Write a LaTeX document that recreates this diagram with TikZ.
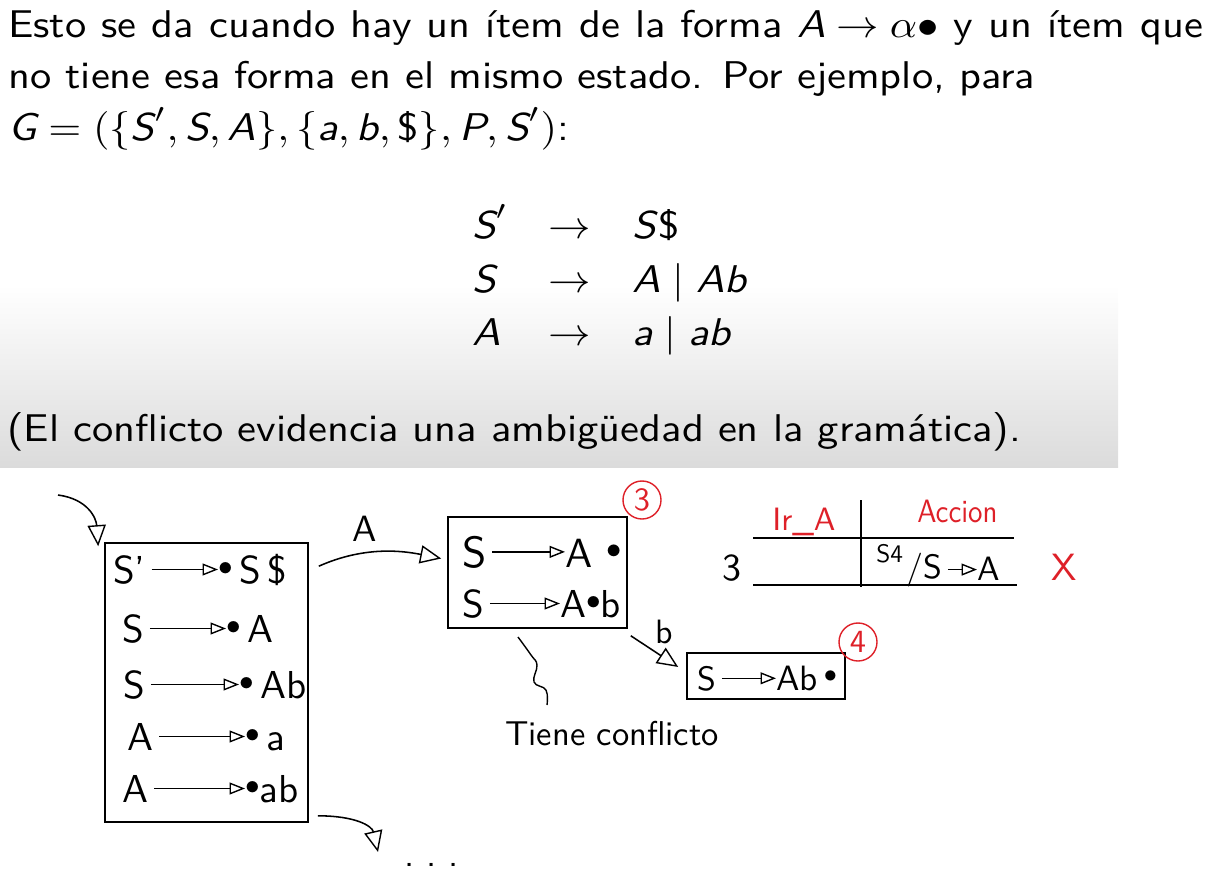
\documentclass[tikz,border=0pt]{standalone}
\usetikzlibrary{arrows.meta,positioning}
\definecolor{hred}{RGB}{222,32,40}
% texto de diapositiva: diseno de 10pt ampliado
\newcommand\sld[1]{\scalebox{3.02}[2.75]{\sffamily\fontsize{10}{12}\selectfont #1}}
% letra a mano
\newcommand\hwt[2][2.77]{\scalebox{#1}{\sffamily\fontsize{10}{12}\selectfont #2}}
\newcommand\mv[1]{\textsl{#1}}
\newcommand\hdot{\raisebox{2pt}{\scalebox{0.75}{$\bullet$}}}
\tikzset{
  slide/.style={anchor=base west, inner sep=0pt},
  hw/.style={anchor=base west, inner sep=0pt},
  statebox/.style={draw, line width=1.1pt, inner sep=0pt},
  trans/.style={-{Triangle[open,length=15pt,width=13pt,line width=1pt]}, line width=1.1pt},
  itemarr/.style={-{Triangle[open,length=11pt,width=8.5pt,line width=1pt]}, line width=1pt, shorten <=4pt},
  mark3/.style={circle, draw=hred, text=hred, line width=1pt, minimum size=0.95cm, inner sep=0pt}
}
\begin{document}
\begin{tikzpicture}[x=0.025cm,y=-0.025cm]
\useasboundingbox (0,0) rectangle (1216,873);
\shade[top color=white, bottom color=black!14] (0,285) rectangle (1118,467);

% texto de la diapositiva
\node[slide] (p1) at (8,38) {\sld{\hbox to 9.89cm{Esto se da cuando hay un ítem de la forma \mv{A}\kern0.25em$\to$\kern0.25em$\alpha\bullet$ y un ítem que}}};
\node[slide] (p2) at (8,89) {\sld{no tiene esa forma en el mismo estado. Por ejemplo, para}};
\node[slide] (p3) at (8,141) {\sld{$\mv{G}=(\{\mv{S}',\mv{S},\mv{A}\},\{\mv{a},\mv{b},\mbox{\$}\},\mv{P},\mv{S}')$:}};
\node[slide] (g1) at (472,238) {\sld{$\mv{S}'$}};
\node[slide] (g2) at (472,292) {\sld{\mv{S}}};
\node[slide] (g3) at (472,345) {\sld{\mv{A}}};
\foreach \y in {238,292,345}
  \node[slide] at (548,\y) {\sld{$\to$}};
\node[slide] (d1) at (632,238) {\sld{\mv{S}\$}};
\node[slide] (d2) at (632,292) {\sld{$\mv{A}\mid\mv{Ab}$}};
\node[slide] (d3) at (632,345) {\sld{$\mv{a}\mid\mv{ab}$}};
\node[slide] (p4) at (7,441) {\sld{(El conflicto evidencia una ambigüedad en la gramática).}};

% estado inicial
\node[statebox, minimum width=5.075cm, minimum height=6.975cm] (I0) at (206.5,682.5) {};
\foreach \l/\lx/\r/\rx/\y [count=\i] in {
  {S'}/113/{\hdot\,S\,\$}/218/583,
  S/122/{\hdot\,A}/226/642,
  S/123/{\hdot\,Ab}/239/698,
  A/127/{\hdot\,a}/245/750,
  A/122/{\hdot ab}/245/802}
{
  \node[hw] (a\i) at (\lx,\y) {\hwt{\l}};
  \node[hw] (b\i) at (\rx,\y) {\hwt{\r}};
  \draw[itemarr] (a\i) -- (a\i -| b\i.west);
}
\draw[trans] (58,495) .. controls +(30,4) and +(-2,-28) .. ([shift={(-6,4)}]I0.north west);
\draw[trans] ([shift={(9,-7)}]I0.south east) .. controls +(38,0) and +(-6,-26) .. (378,852);
\node[hw] (more) at (404,866) {\hwt[2.6]{.\,\,.\,\,.}};

% estado 3
\node[statebox, minimum width=4.475cm, minimum height=2.775cm] (I3) at (537.5,572.5) {};
\node[hw] (c1) at (462,567) {\hwt[3.1]{S}};
\node[hw] (e1) at (565,567) {\hwt[2.9]{A\,\,\hdot}};
\node[hw] (c2) at (462,617) {\hwt{S}};
\node[hw] (e2) at (560,617) {\hwt{A\hdot b}};
\draw[itemarr] (c1) -- (c1 -| e1.west);
\draw[itemarr] (c2) -- (c2 -| e2.west);
\node[mark3] (n3) at (642,500) {\hwt[2.3]{3}};
\draw[trans] ([shift={(10,24)}]I0.north east) .. controls +(45,-20) and +(-40,-8) .. ([shift={(-6,-14)}]I3.west);
\node[hw] (symA) at (352,541) {\hwt[2.6]{A}};

% estado 4
\node[statebox, minimum width=3.95cm, minimum height=1.15cm] (I4) at (766,676) {};
\node[hw] (f1) at (697,690) {\hwt[2.4]{S}};
\node[hw] (h1) at (776,690) {\hwt[2.5]{Ab\,\hdot}};
\draw[itemarr] (f1) -- (f1 -| h1.west);
\node[mark3] (n4) at (858,642) {\hwt[2.3]{4}};
\draw[trans] ([shift={(3,7)}]I3.south east) -- ([shift={(-8,-9)}]I4.west);
\node[hw] (symb) at (655,643) {\hwt[2.4]{b}};

% conflicto
\draw[line width=1pt] plot[smooth, tension=0.7] coordinates {(518,637) (531,655) (537,665) (534,682) (546,690) (547,705)};
\node[hw] (nota) at (505,745) {\hwt[2.45]{Tiene conf{}licto}};

% tabla
\draw[line width=1pt] (753,538) -- (1014,538);
\draw[line width=1pt] (753,585) -- (1017,585);
\draw[line width=1pt] (861,500) -- (861,587);
\node[hw, text=hred] (irA) at (772,530) {\hwt[2.3]{Ir\_A}};
\node[hw, text=hred] (acc) at (917,522) {\scalebox{2.05}[2.3]{\sffamily Accion}};
\node[hw] (st3) at (722,580) {\hwt[2.7]{3}};
\node[hw] (act1) at (876,562) {\hwt[1.8]{S4}};
\node[hw] (act2) at (906,578) {\hwt[2.4]{/S}};
\node[hw] (act3) at (977,580) {\hwt[2.4]{A}};
\draw[itemarr] (act2) -- (act2 -| act3.west);
\node[hw, text=hred] (cross) at (1051,580) {\hwt[2.7]{X}};
\end{tikzpicture}
\end{document}
